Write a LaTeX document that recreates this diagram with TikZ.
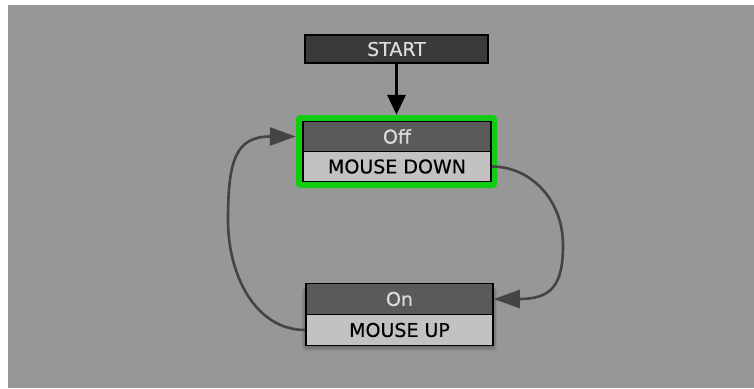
\documentclass[tikz,border=0pt]{standalone}
\usepackage{fontspec}
\newfontfamily\boxfont{DejaVu Sans}[FakeBold=0.4]
\usetikzlibrary{arrows.meta}

\definecolor{canvasgray}{HTML}{979797}
\definecolor{startfill}{HTML}{3A3A3A}
\definecolor{hdrfill}{HTML}{5A5A5A}
\definecolor{bodyfill}{HTML}{C2C2C2}
\definecolor{hdrtext}{HTML}{DCDCDC}
\definecolor{activegreen}{HTML}{12CC12}
\definecolor{linkgray}{HTML}{444444}

\tikzset{
  x=1pt, y=-1pt,
  boxbase/.style={draw=black, line width=1.5pt, inner sep=0pt,
    font=\boxfont\fontsize{19}{22}\selectfont},
  hdrbox/.style={boxbase, fill=hdrfill, text=hdrtext},
  bodybox/.style={boxbase, fill=bodyfill, text=black},
  startbox/.style={boxbase, fill=startfill, text=hdrtext},
  activeframe/.style={fill=activegreen, rounded corners=4pt, inner sep=0pt},
  link/.style={draw=linkgray, line width=2.6pt,
    -{Triangle[length=26pt,width=18pt]}},
  startlink/.style={draw=black, line width=3.5pt,
    -{Triangle[length=20pt,width=18pt]}},
  softshade/.style={fill=black, opacity=0.06, rounded corners=3pt},
}

\begin{document}
\begin{tikzpicture}
  % canvas
  \fill[white] (0,0) rectangle (754,388);
  \fill[canvasgray] (8,5) rectangle (754,388);
  \useasboundingbox (0,0) rectangle (754,388);

  % entry node
  \node[startbox, minimum width=183pt, minimum height=28pt] (start) at (396.5,49) {START};

  % active state "Off"
  \node[activeframe, minimum width=201pt, minimum height=73pt] (offframe) at (396.5,151.5) {};
  \node[hdrbox, minimum width=188pt, minimum height=30pt] (offhdr) at (397,136.5) {Off};
  \node[bodybox, minimum width=188pt, minimum height=30pt] (offbot) at (397,166.5) {MOUSE DOWN};

  % soft drop shadow under state "On"
  \foreach \g in {1,2,3,4,5}
    \fill[softshade] (306-\g*0.8,287+\g*0.2) rectangle (493+\g*0.8,346+\g*1.0);

  % state "On"
  \node[bodybox, minimum width=187pt, minimum height=31pt] (onbot) at (399.5,330) {MOUSE UP};
  \node[hdrbox, minimum width=187pt, minimum height=31pt] (onhdr) at (399.5,299) {On};

  % bend points of the transitions
  \coordinate (rbend) at (563,245);
  \coordinate (lbend) at (228,220);
  \coordinate (offentry) at (offframe.west |- offhdr.west);

  % transitions
  \draw[startlink] (start.south) -- (offframe.north);
  \draw[link] (offbot.east) .. controls +(39,0) and +(0,-45) .. (rbend)
                            .. controls +(0,40) and +(58,0) .. (onhdr.east);
  \draw[link] (onbot.west) .. controls +(-50,0) and +(0,55) .. (lbend)
                           .. controls +(0,-60) and +(-60,0) .. (offentry);
\end{tikzpicture}
\end{document}
